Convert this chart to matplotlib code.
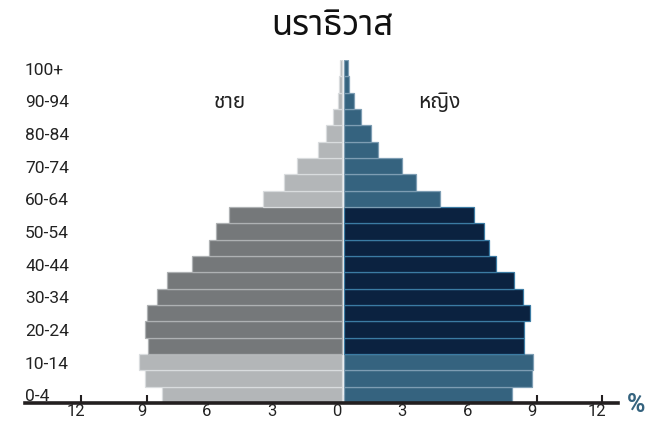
import os
import matplotlib
matplotlib.use("Agg")
import matplotlib.pyplot as plt
import matplotlib.font_manager as fm
from matplotlib.transforms import blended_transform_factory, ScaledTranslation

# Age groups, youngest first
age_groups = ["0-4", "5-9", "10-14", "15-19", "20-24", "25-29", "30-34", "35-39",
              "40-44", "45-49", "50-54", "55-59", "60-64", "65-69", "70-74",
              "75-79", "80-84", "85-89", "90-94", "95-99", "100+"]

# Share of population (%) by age group
male = [8.31, 9.09, 9.34, 8.95, 9.06, 9.00, 8.50, 8.05, 6.90, 6.10, 5.80,
        5.19, 3.65, 2.66, 2.09, 1.09, 0.74, 0.40, 0.17, 0.15, 0.10]
female = [7.75, 8.66, 8.73, 8.32, 8.32, 8.59, 8.27, 7.84, 7.02, 6.70, 6.45,
          6.02, 4.42, 3.32, 2.70, 1.57, 1.25, 0.80, 0.46, 0.24, 0.18]

tick_values = [-12, -9, -6, -3, 0, 3, 6, 9, 12]
title = "นราธิวาส"
male_label = "ชาย"
female_label = "หญิง"


def thai_family():
    """Pick an installed font with Thai glyphs, preferring looped sans faces."""
    wanted = ["NotoSansThai-Regular", "NotoSansThai[", "Sarabun-Regular",
              "Loma.otf", "Kanit-Regular", "Prompt-Regular"]
    paths = fm.findSystemFonts()
    for key in wanted:
        for p in sorted(paths):
            if key in os.path.basename(p):
                try:
                    fm.fontManager.addfont(p)
                    return fm.FontProperties(fname=p).get_name()
                except Exception:
                    continue
    return None


thai = thai_family()
thai_fam = ([thai] if thai else []) + ["DejaVu Sans"]
plt.rcParams["font.family"] = ["Roboto", "DejaVu Sans"]

W, H = 662, 421
fig = plt.figure(figsize=(W / 100, H / 100), dpi=100)
left, right = 25 / W, 618 / W
bottom, top = (H - 403) / H, (H - 60) / H
ax = fig.add_axes([left, bottom, right - left, top - bottom])

n = len(age_groups)
ys = list(range(n))


def band(i):
    start = int(age_groups[i].rstrip("+").split("-")[0])
    return "mid" if 15 <= start <= 55 else "outer"


m_face = {"outer": "#b3b6b8", "mid": "#75787a"}
m_edge = {"outer": "#d9dcde", "mid": "#aeb1b3"}
f_face = {"outer": "#35637f", "mid": "#0b2240"}
f_edge = {"outer": "#7d9db3", "mid": "#3b7ba3"}

for i in ys:
    b = band(i)
    ax.barh(i, -male[i], height=1.0, color=m_face[b], edgecolor=m_edge[b],
            linewidth=0.9, zorder=2)
    ax.barh(i, female[i], height=1.0, left=0.08, color=f_face[b],
            edgecolor=f_edge[b], linewidth=0.9, zorder=2)

ax.set_xlim(-14.6, 12.72)
ax.set_ylim(-0.5, n - 0.5)

for s in ["top", "right", "left"]:
    ax.spines[s].set_visible(False)
ax.spines["bottom"].set_linewidth(2.6)
ax.spines["bottom"].set_color("#231f20")
ax.spines["bottom"].set_zorder(5)

ax.set_xticks(tick_values)
ax.set_xticklabels([str(abs(v)) for v in tick_values])
ax.tick_params(axis="x", direction="in", length=6, width=1.5, color="#231f20",
               labelsize=12, labelcolor="#222222", pad=0.5)
shift = ScaledTranslation(-5 / 100, 0, fig.dpi_scale_trans)
for lab in ax.get_xticklabels():
    lab.set_transform(lab.get_transform() + shift)
ax.set_yticks([])

# Age labels every other group, left aligned at the axis edge
trans = blended_transform_factory(ax.transAxes, ax.transData)
for i in range(0, n, 2):
    ax.text(0.0, i - 0.12, age_groups[i], transform=trans, ha="left",
            va="center", fontsize=12.5, color="#222222")

fig.text(332 / W, 1 - 26 / H, title, ha="center", va="center",
         fontsize=25, color="#111111", family=thai_fam)
fig.text(230 / W, 1 - 103 / H, male_label, ha="center", va="center",
         fontsize=15, color="#222222", family=thai_fam)
fig.text(439 / W, 1 - 103 / H, female_label, ha="center", va="center",
         fontsize=15, color="#222222", family=thai_fam)
fig.text(636 / W, 1 - 405 / H, "%", ha="center", va="center",
         fontsize=18, color="#35637f", fontweight="bold")

fig.savefig("out.png", dpi=100)
